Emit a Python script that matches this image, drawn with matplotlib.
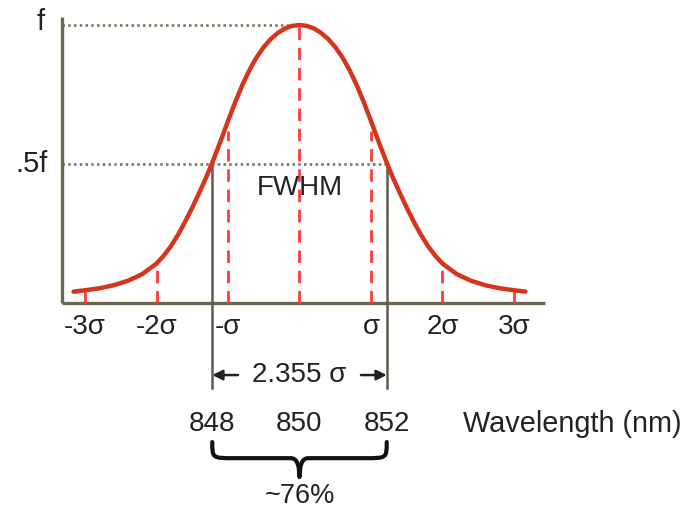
import numpy as np
import matplotlib
matplotlib.use("Agg")
import matplotlib.pyplot as plt
from matplotlib.path import Path
from matplotlib.patches import PathPatch

plt.rcParams['font.family'] = ['Liberation Sans', 'DejaVu Sans']

# curve (right half), x in sigma units, y as fraction of peak f
half_x = [0.0, 0.1, 0.2, 0.3, 0.4, 0.5, 0.6, 0.7, 0.8, 0.9, 1.0, 1.1, 1.22, 1.3,
          1.4, 1.5, 1.6, 1.7, 1.8, 1.9, 2.0, 2.2, 2.4, 2.6, 2.8, 3.0, 3.16]
half_y = [1.0, 0.997, 0.988, 0.972, 0.950, 0.921, 0.884, 0.838, 0.784, 0.722, 0.655,
          0.585, 0.505, 0.455, 0.398, 0.343, 0.292, 0.245, 0.204, 0.170, 0.142,
          0.104, 0.080, 0.064, 0.053, 0.046, 0.041]
# the drawn curve is symmetric about the peak
curve_x = [-v for v in half_x[:0:-1]] + half_x
curve_y = half_y[:0:-1] + half_y

sigma_ticks = [-3, -2, -1, 0, 1, 2, 3]
sigma_labels = ['-3σ', '-2σ', '-σ', '', 'σ', '2σ', '3σ']
sigma_heights = [0.046, 0.142, 0.62, 1.0, 0.62, 0.142, 0.046]
half_width = 1.22          # where the curve crosses .5f
width_label = '2.355 σ'
wavelengths = ['848', '850', '852']
percent_text = '~76%'

red_curve = '#d4351c'
red_dash = '#ff3b3b'
axis_col = '#6e6654'
guide_col = '#7a6c52'
txt = '#222222'
fs = 20

fig = plt.figure(figsize=(6.85, 5.11), dpi=100)
ax = fig.add_axes([0, 0, 1, 1])
ax.set_xlim(-4.189, 5.392)
ax.set_ylim(-0.748, 1.090)
ax.axis('off')

x0 = -3.322   # y axis position
x1 = 3.43     # right end of x axis

# axes lines
ax.plot([x0, x0], [0, 1.029], color=axis_col, lw=2.4, solid_capstyle='butt')
ax.plot([x0, x1], [0, 0], color=axis_col, lw=2.4, solid_capstyle='butt')

# dotted guides at f and .5f
ax.plot([x0, -0.05], [1.0, 1.0], color=guide_col, lw=1.8, ls=(0, (1, 1.3)))
ax.plot([x0, half_width], [0.5, 0.5], color=guide_col, lw=1.8, ls=(0, (1, 1.3)))

# red dashed verticals at sigma marks
for s, h in zip(sigma_ticks, sigma_heights):
    ax.plot([s, s], [0, h], color=red_dash, lw=2.0, ls=(0, (4.5, 2.8)))

# curve
ax.plot(curve_x, curve_y, color=red_curve, lw=3.2, solid_capstyle='round',
        solid_joinstyle='round', zorder=5)

# FWHM verticals
for s in (-half_width, half_width):
    ax.plot([s, s], [0.5, -0.306], color='#615b4e', lw=1.8, zorder=4)

ax.text(0, 0.414, 'FWHM', ha='center', va='center', fontsize=fs, color=txt)
ax.text(-3.56, 1.01, 'f', ha='right', va='center', fontsize=fs + 1, color=txt)
ax.text(-3.52, 0.5, '.5f', ha='right', va='center', fontsize=fs + 1, color=txt)

for s, lab in zip(sigma_ticks, sigma_labels):
    ax.text(s, -0.086, lab, ha='center', va='center', fontsize=fs, color=txt)

# width arrow
ya = -0.259
ax.text(0, ya, width_label, ha='center', va='center', fontsize=fs, color=txt)
for s, t in ((-half_width, -half_width + 0.36), (half_width, half_width - 0.36)):
    ax.annotate('', xy=(s, ya), xytext=(t, ya),
                arrowprops=dict(arrowstyle='-|>', color='#222', lw=1.8,
                                mutation_scale=15, shrinkA=0, shrinkB=0))

# wavelength row
yw = -0.435
for s, w in zip((-half_width, 0, half_width), wavelengths):
    ax.text(s, yw, w, ha='center', va='center', fontsize=fs, color=txt)
ax.text(2.29, yw, 'Wavelength (nm)', ha='left', va='center', fontsize=fs + 0.8, color=txt)

# curly brace under the FWHM
yt, ym, yb = -0.50, -0.558, -0.626
r = 0.3
verts = [(-half_width, yt), (-half_width, ym), (-half_width, ym), (-half_width + r, ym),
         (-0.12, ym), (0, ym), (0, yb),
         (0, ym), (0.12, ym),
         (half_width - r, ym), (half_width, ym), (half_width, ym), (half_width, yt)]
codes = [Path.MOVETO, Path.CURVE4, Path.CURVE4, Path.CURVE4,
         Path.LINETO, Path.CURVE3, Path.CURVE3,
         Path.CURVE3, Path.CURVE3,
         Path.LINETO, Path.CURVE4, Path.CURVE4, Path.CURVE4]
ax.add_patch(PathPatch(Path(verts, codes), fill=False, lw=3.0, color='#111',
                       joinstyle='round', capstyle='round'))

ax.text(0, -0.695, percent_text, ha='center', va='center', fontsize=fs - 0.5, color=txt)

fig.savefig('out.png', dpi=100)
